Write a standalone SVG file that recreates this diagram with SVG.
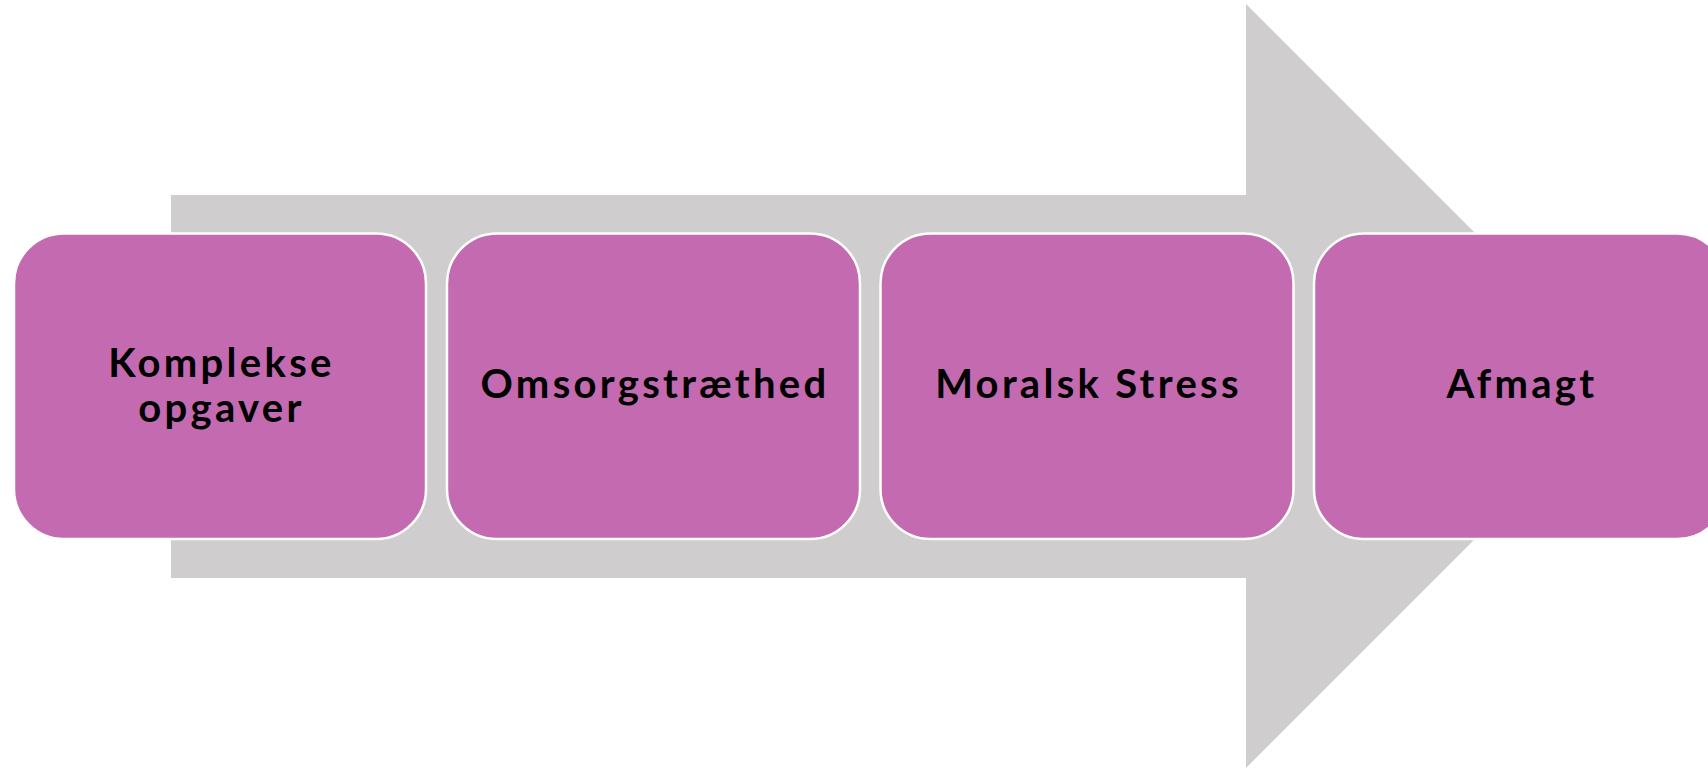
<svg xmlns="http://www.w3.org/2000/svg" width="1708" height="769" viewBox="0 0 1708 769">
<style>
.box{fill:#C46AB0;stroke:#FFFFFF;stroke-width:2.5}
.lbl{font-family:Lato,"Noto Sans",sans-serif;font-weight:700;font-size:40px;letter-spacing:3.3px;fill:#000;text-anchor:middle}
</style>
<rect width="1708" height="769" fill="#FFFFFF"/>
<g id="connectors">
<path d="M171,195 H1246 V4 L1628,386 L1246,768 V578 H171 Z" fill="#CFCDCE"/>
</g>
<g id="node1">
<rect class="box" x="14" y="233.5" width="412" height="305.5" rx="50"/>
<text class="lbl" x="221.5" y="377">Komplekse</text>
<text class="lbl" x="221.5" y="422">opgaver</text>
</g>
<g id="node2">
<rect class="box" x="447" y="233.5" width="413" height="305.5" rx="50"/>
<text class="lbl" x="655" y="398">Omsorgstræthed</text>
</g>
<g id="node3">
<rect class="box" x="880.5" y="233.5" width="413" height="305.5" rx="50"/>
<text class="lbl" x="1088.5" y="398">Moralsk Stress</text>
</g>
<g id="node4">
<rect class="box" x="1314" y="233.5" width="413" height="305.5" rx="50"/>
<text class="lbl" x="1522" y="398">Afmagt</text>
</g>
</svg>
